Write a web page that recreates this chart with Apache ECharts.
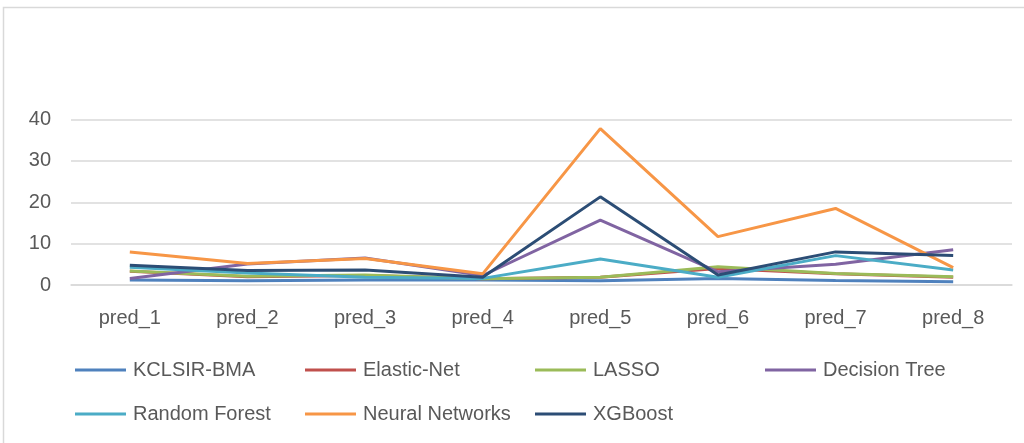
<!DOCTYPE html>
<html><head><meta charset="utf-8">
<script src="https://cdn.jsdelivr.net/npm/echarts@6/dist/echarts.min.js"></script>
<style>html,body{margin:0;padding:0;background:#fff}#c{width:1024px;height:443px}</style>
</head><body><div id="c"></div>
<script>
const categories = ['pred_1','pred_2','pred_3','pred_4','pred_5','pred_6','pred_7','pred_8'];
const seriesNames = ['KCLSIR-BMA','Elastic-Net','LASSO','Decision Tree','Random Forest','Neural Networks','XGBoost'];
const kclsirBma     = [1.2, 1.05, 1.2, 1.2, 1.05, 1.6, 1.1, 0.8];
const elasticNet    = [3.3, 2.0, 2.3, 1.5, 1.9, 4.0, 2.7, 1.9];
const lasso         = [3.4, 2.1, 2.4, 1.5, 1.9, 4.4, 2.8, 2.0];
const decisionTree  = [1.55, 5.1, 6.5, 2.3, 15.7, 3.2, 5.0, 8.5];
const randomForest  = [4.3, 2.9, 1.85, 1.6, 6.3, 1.85, 7.1, 3.6];
const neuralNets    = [8.0, 5.2, 6.4, 2.7, 37.8, 11.7, 18.5, 4.2];
const xgboost       = [4.8, 3.5, 3.65, 1.85, 21.3, 2.4, 8.0, 7.1];
const yTicks = [0, 10, 20, 30, 40];

const values = [kclsirBma, elasticNet, lasso, decisionTree, randomForest, neuralNets, xgboost];
const colors = ['#4F81BD','#C0504D','#9BBB59','#8064A2','#4BACC6','#F79646','#2C4D75'];

const chart = echarts.init(document.getElementById('c'), null, {renderer:'canvas'});
const font = 'Liberation Sans, Arial, sans-serif';
const legendCols = [75, 305, 535, 765];
const legendRows = [360, 404];
const legends = seriesNames.map((n,i)=>({
  left: legendCols[i % 4], top: legendRows[Math.floor(i / 4)], padding:0,
  itemWidth:51, itemHeight:3, icon:'rect', data:[n],
  textStyle:{color:'#595959', fontSize:20, fontFamily:font, padding:[0,0,0,2]}
}));
chart.setOption({
  animation:false,
  color: colors,
  graphic:[{type:'rect', shape:{x:3.5,y:7.5,width:1030,height:450}, style:{fill:null, stroke:'#d9d9d9', lineWidth:1.5}, silent:true}],
  grid:{left:71, right:12, top:119.5, bottom:158, containLabel:false},
  xAxis:{type:'category', data:categories, boundaryGap:true,
    axisLine:{show:true, lineStyle:{color:'#d9d9d9', width:1.5}},
    axisTick:{show:false},
    axisLabel:{color:'#595959', fontSize:20, fontFamily:font, margin:23}},
  yAxis:{type:'value', min:yTicks[0], max:yTicks[yTicks.length-1], interval:10,
    axisLine:{show:false}, axisTick:{show:false},
    splitLine:{lineStyle:{color:'#d9d9d9', width:1.5}},
    axisLabel:{color:'#595959', fontSize:20, fontFamily:font, margin:20}},
  legend: legends,
  series: seriesNames.map((n,i)=>({
    name:n, type:'line', data:values[i], symbol:'none',
    lineStyle:{width:3, color:colors[i]}, itemStyle:{color:colors[i]}
  }))
});
</script></body></html>
